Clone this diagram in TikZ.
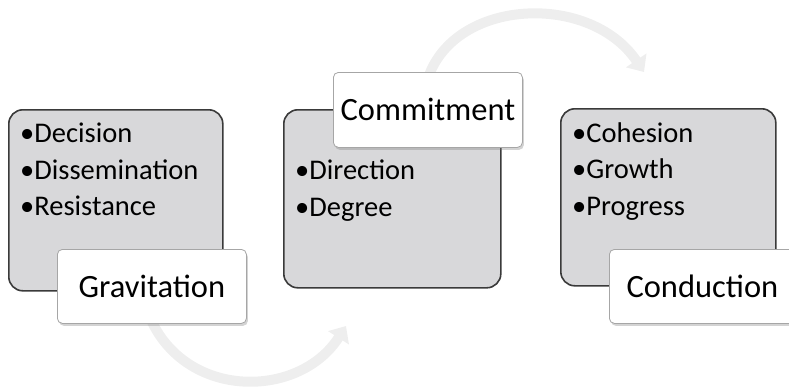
\documentclass[tikz,border=0pt]{standalone}
\usepackage{fontspec}
\setmainfont{Carlito}
\usetikzlibrary{arrows.meta,shadows}
\definecolor{boxfill}{HTML}{D8D8DA}
\definecolor{boxline}{HTML}{3A3A3A}
\definecolor{tagline}{HTML}{A6A6A6}
\definecolor{arrowfill}{HTML}{EEEEEE}
\tikzset{
  x=1pt, y=-1pt,
  itembox/.style={draw=boxline, line width=1.6pt, fill=boxfill, rounded corners=14pt,
    anchor=north west, inner sep=0pt},
  item/.style={anchor=base west, inner sep=0pt, font=\fontsize{28.5}{32}\selectfont},
  tagbox/.style={draw=tagline, line width=0.8pt, fill=white, rounded corners=5pt,
    anchor=north west, inner sep=0pt, font=\fontsize{32.5}{38}\selectfont,
    drop shadow={opacity=0.35, shadow xshift=1.5pt, shadow yshift=-2.5pt}},
  flow/.style={draw=arrowfill, line width=10pt,
    -{Triangle[length=14pt, width=24pt]}}
}
\begin{document}
\begin{tikzpicture}
\useasboundingbox (0,0) rectangle (789,389);
\clip (0,0) rectangle (789,389);

% curved connectors between the stages
\coordinate (a1s) at (152,322);
\coordinate (a1e) at (346,326);
\coordinate (a2s) at (428,78);
\coordinate (a2e) at (644,72);
\draw[flow] (a1s) .. controls (190,400) and (300,398) .. (a1e);
\draw[flow] (a2s) .. controls (455,-2) and (590,-8) .. (a2e);

% stage 1
\node[itembox, minimum width=214pt, minimum height=181pt] (b1) at (8,109) {};
\node[item] (b1i1) at (20,142) {•Decision};
\node[item] (b1i2) at (20,179) {•Dissemination};
\node[item] (b1i3) at (20,215) {•Resistance};
\node[tagbox, minimum width=189pt, minimum height=74pt] (t1) at (57,249) {Gravitation};

% stage 2
\node[itembox, minimum width=217pt, minimum height=178pt] (b2) at (283,109) {};
\node[item] (b2i1) at (295,179) {•Direction};
\node[item] (b2i2) at (295,216) {•Degree};
\node[tagbox, minimum width=189pt, minimum height=75pt] (t2) at (333,72) {Commitment};

% stage 3
\node[itembox, minimum width=215pt, minimum height=177pt] (b3) at (560,108) {};
\node[item] (b3i1) at (572,142) {•Cohesion};
\node[item] (b3i2) at (572,178) {•Growth};
\node[item] (b3i3) at (572,215) {•Progress};
\node[tagbox, minimum width=186pt, minimum height=74pt] (t3) at (609,249) {Conduction};
\end{tikzpicture}
\end{document}
